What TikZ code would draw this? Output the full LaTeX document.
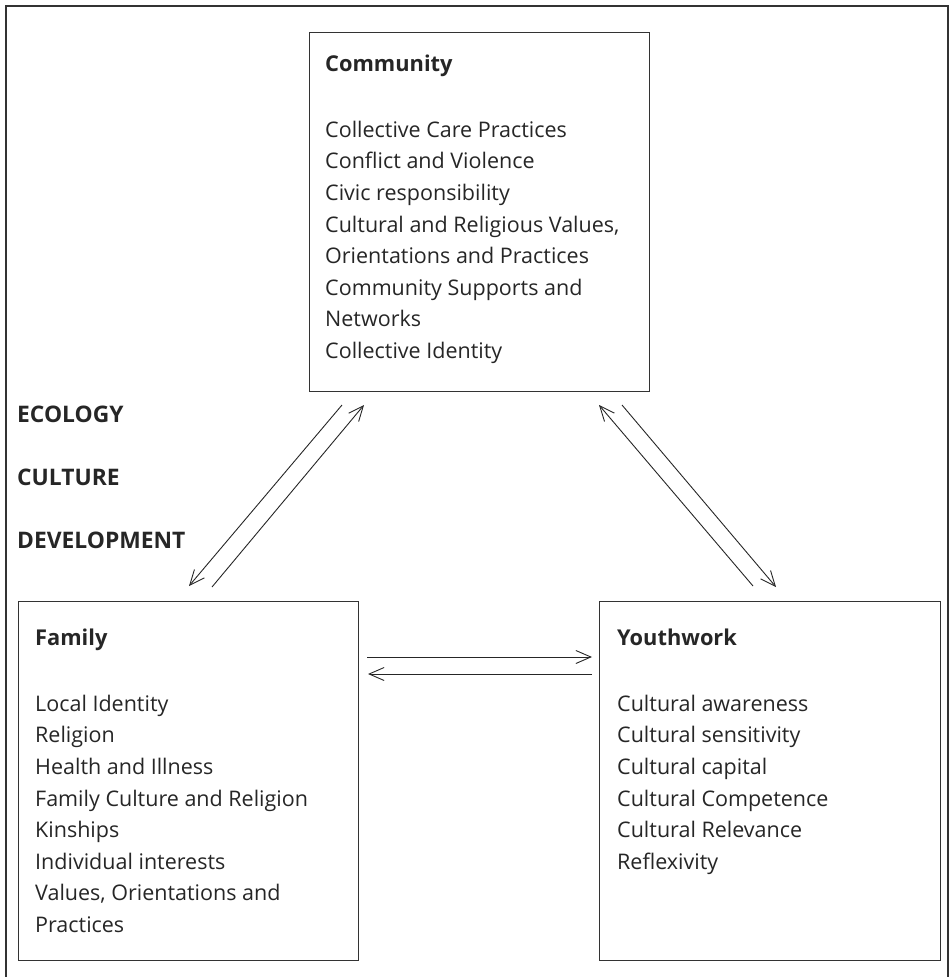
\documentclass[tikz,border=0pt]{standalone}
\usepackage{fontspec}
\setmainfont{Open Sans}
\usetikzlibrary{arrows.meta, positioning}

\begin{document}
\begin{tikzpicture}[x=1pt, y=-1pt]
	\tikzstyle{panel} = [rectangle, draw=black!80, line width=1.3pt, inner sep=0pt, anchor=north west]
	\tikzstyle{items} = [anchor=north west, align=left, inner sep=0pt, text=black!85, font=\fontsize{21.5}{31.6}\selectfont]
	\tikzstyle{tag} = [inner sep=0pt, text=black!85, font=\fontsize{22.8}{26}\selectfont\bfseries]
	\tikzstyle{arrow} = [line width=0.9pt, black!85, -{Straight Barb[length=15pt, width=13pt]}]
	\useasboundingbox (0,0) rectangle (950,977);
	\draw [line width=2pt, black!80] (6,6) rectangle (948,995);
	\node (community) [panel, minimum width=340pt, minimum height=359pt] at (309,32) {};
	\node (family) [panel, minimum width=340pt, minimum height=359pt] at (18,601) {};
	\node (youthwork) [panel, minimum width=341pt, minimum height=359pt] at (599,601) {};
	\node (communityText) [items] at (325,46) {\rule{0pt}{25pt}{\fontsize{21.8}{26}\selectfont\bfseries Community}\\[34.4pt]
		Collective Care Practices\\ Conflict and Violence\\ Civic responsibility\\
		Cultural and Religious Values,\\ Orientations and Practices\\
		Community Supports and\\ Networks\\ Collective Identity};
	\node (familyText) [items] at (35,620) {\rule{0pt}{25pt}{\fontsize{21.8}{26}\selectfont\bfseries Family}\\[34.4pt]
		Local Identity\\ Religion\\ Health and Illness\\ Family Culture and Religion\\
		Kinships\\ Individual interests\\ Values, Orientations and\\ Practices};
	\node (youthworkText) [items] at (617,620) {\rule{0pt}{25pt}{\fontsize{21.8}{26}\selectfont\bfseries Youthwork}\\[34.4pt]
		Cultural awareness\\ Cultural sensitivity\\ Cultural capital\\
		Cultural Competence\\ Cultural Relevance\\ Reflexivity};
	\node (ecology) [tag, anchor=base west] at (17,422) {ECOLOGY};
	\node (culture) [tag, below=63pt of ecology.base west, anchor=base west] {CULTURE};
	\node (development) [tag, below=63pt of culture.base west, anchor=base west] {DEVELOPMENT};
	\coordinate (commLeftA) at (342,405);
	\coordinate (famTopA) at (189,586);
	\coordinate (famTopB) at (212,587);
	\coordinate (commLeftB) at (364,405);
	\coordinate (youthTopA) at (753,586);
	\coordinate (commRightA) at (599,405);
	\coordinate (commRightB) at (622,405);
	\coordinate (youthTopB) at (776,587);
	\coordinate (famRightA) at (367,657);
	\coordinate (youthLeftA) at (592,657);
	\coordinate (youthLeftB) at (592,674);
	\coordinate (famRightB) at (368,674);
	\draw [arrow] (commLeftA) -- (famTopA);
	\draw [arrow] (famTopB) -- (commLeftB);
	\draw [arrow] (youthTopA) -- (commRightA);
	\draw [arrow] (commRightB) -- (youthTopB);
	\draw [arrow] (famRightA) -- (youthLeftA);
	\draw [arrow] (youthLeftB) -- (famRightB);
\end{tikzpicture}
\end{document}
